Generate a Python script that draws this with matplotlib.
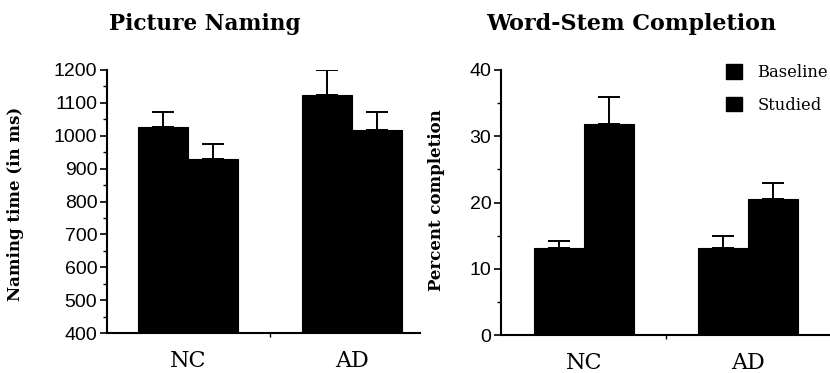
import matplotlib
matplotlib.use("Agg")
import matplotlib.pyplot as plt
from matplotlib.patches import Patch
from matplotlib.ticker import MultipleLocator, FixedLocator
import numpy as np

groups = ["NC", "AD"]
series = ["Baseline", "Studied"]

naming_means = {"Baseline": [1028, 1124], "Studied": [930, 1018]}
naming_err = {"Baseline": [45, 76], "Studied": [45, 53]}

stem_means = {"Baseline": [13.1, 13.2], "Studied": [31.8, 20.6]}
stem_err = {"Baseline": [1.1, 1.7], "Studied": [4.1, 2.4]}

SERIF = ["DejaVu Serif"]
SANS = ["Liberation Sans", "DejaVu Sans"]

W, H = 830, 373
fig = plt.figure(figsize=(W / 100, H / 100), dpi=100)

def frac_axes(x0, x1, ytop, ybot):
    return fig.add_axes([x0 / W, 1 - ybot / H, (x1 - x0) / W, (ybot - ytop) / H])

ax1 = frac_axes(107, 420, 70, 333)
ax2 = frac_axes(501, 830, 70, 335)

bw = 0.305
x = np.arange(len(groups))

def draw(ax, means, errs, ylim, major, minor, ylabel, xlim, lab_xy):
    for i, s in enumerate(series):
        pos = x + (i - 0.5) * bw
        ax.bar(pos, means[s], width=bw, bottom=0, color="black", edgecolor="black",
               linewidth=0.8, zorder=2)
        ax.errorbar(pos, means[s], yerr=[np.zeros(len(groups)), errs[s]], fmt="none",
                    ecolor="black", elinewidth=1.4, capsize=8, capthick=1.4, zorder=1)
    ax.set_ylim(*ylim)
    ax.set_xlim(*xlim)
    ax.yaxis.set_major_locator(MultipleLocator(major))
    ax.yaxis.set_minor_locator(MultipleLocator(minor))
    ax.set_xticks(x)
    ax.set_xticklabels(groups, fontfamily=SERIF, fontsize=16)
    ax.xaxis.set_minor_locator(FixedLocator([0.5]))
    ax.tick_params(axis="x", which="major", length=0, pad=12)
    ax.tick_params(axis="x", which="minor", length=3, width=1, direction="out")
    ax.tick_params(axis="y", which="major", length=5, width=1.2, labelsize=14, pad=2)
    ax.tick_params(axis="y", which="minor", length=3, width=1)
    for lab in ax.get_yticklabels():
        lab.set_fontfamily(SANS)
    for sp in ["top", "right"]:
        ax.spines[sp].set_visible(False)
    for sp in ["left", "bottom"]:
        ax.spines[sp].set_linewidth(1.5)
    ax.set_ylabel(ylabel, fontfamily=SERIF, fontweight="bold", fontsize=12)
    ax.yaxis.set_label_coords(*lab_xy)

draw(ax1, naming_means, naming_err, (400, 1200), 100, 50, "Naming time (in ms)",
     (-0.494, 1.415), (-0.265, 0.49))
draw(ax2, stem_means, stem_err, (0, 40), 10, 5, "Percent completion",
     (-0.506, 1.5), (-0.17, 0.51))

fig.text(205 / W, 1 - 24 / H, "Picture Naming", ha="center", va="center",
         fontfamily=SERIF, fontweight="bold", fontsize=15.6)
fig.text(631 / W, 1 - 24 / H, "Word-Stem Completion", ha="center", va="center",
         fontfamily=SERIF, fontweight="bold", fontsize=16)

handles = [Patch(facecolor="black", edgecolor="black", label=s) for s in series]
fig.legend(handles=handles, loc="upper left", bbox_to_anchor=(726 / W, 1 - 64 / H),
           frameon=False, prop={"family": SERIF, "size": 11.8}, handlelength=1.0,
           handleheight=1.0, handletextpad=0.9, labelspacing=0.95, borderpad=0,
           borderaxespad=0)

fig.savefig("out.png", dpi=100)
